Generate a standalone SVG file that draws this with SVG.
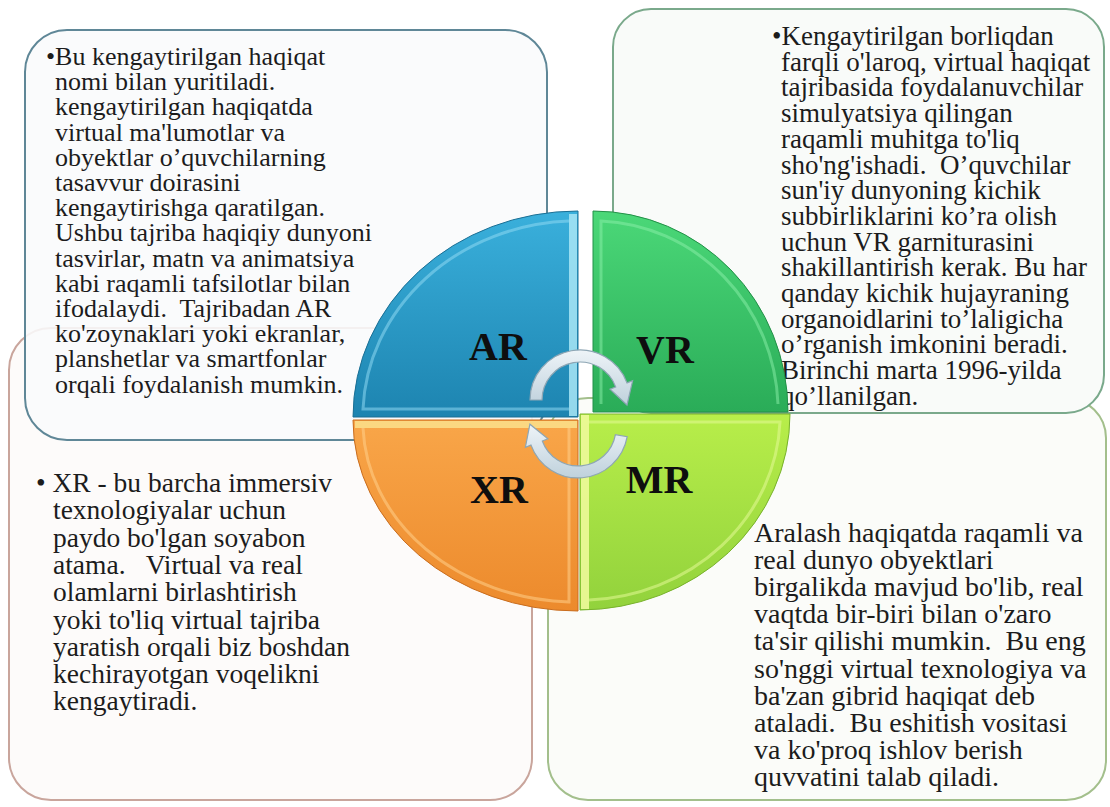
<svg xmlns="http://www.w3.org/2000/svg" width="1110" height="807" viewBox="0 0 1110 807">
<defs>
<style>
.box{stroke-width:2}
.t{font-family:"Liberation Serif","Times New Roman",serif;fill:#1c1c1c;white-space:pre}
.lab{font-family:"Liberation Serif","Times New Roman",serif;font-weight:bold;font-size:40px;fill:#0e0e0e;text-anchor:middle}
.bev{fill:none;stroke-width:3}
.arrow{fill:url(#gArrow);stroke:#8ea6b4;stroke-width:1.2}
</style>
<linearGradient id="gAR" x1="0" y1="0" x2="0" y2="1"><stop offset="0" stop-color="#3ab0dc"/><stop offset="1" stop-color="#1d84b0"/></linearGradient>
<linearGradient id="gVR" x1="0" y1="0" x2="0" y2="1"><stop offset="0" stop-color="#4bd878"/><stop offset="1" stop-color="#2aac58"/></linearGradient>
<linearGradient id="gXR" x1="0" y1="0" x2="0" y2="1"><stop offset="0" stop-color="#f9a649"/><stop offset="1" stop-color="#ec8a2c"/></linearGradient>
<linearGradient id="gMR" x1="0" y1="0" x2="0" y2="1"><stop offset="0" stop-color="#b8ee4a"/><stop offset="1" stop-color="#92d23c"/></linearGradient>
<linearGradient id="gArrow" x1="0" y1="0" x2="0" y2="1"><stop offset="0" stop-color="#eef4f8"/><stop offset="1" stop-color="#bfd1dc"/></linearGradient>
</defs>
<rect width="1110" height="807" fill="#ffffff"/>

<g id="node-xr-box">
<rect class="box" x="9" y="328" width="523" height="472" rx="42" fill="#fdfbfa" stroke="#c9a59c"/>
<text class="t" font-size="27.5"><tspan x="36" y="492">• XR - bu barcha immersiv</tspan><tspan x="53" y="519.3">texnologiyalar uchun</tspan><tspan x="53" y="546.6">paydo bo'lgan soyabon</tspan><tspan x="53" y="573.9">atama.   Virtual va real</tspan><tspan x="53" y="601.2">olamlarni birlashtirish</tspan><tspan x="53" y="628.5">yoki to'liq virtual tajriba</tspan><tspan x="53" y="655.8">yaratish orqali biz boshdan</tspan><tspan x="53" y="683.1">kechirayotgan voqelikni</tspan><tspan x="53" y="710.4">kengaytiradi.</tspan></text>
</g>

<g id="node-mr-box">
<rect class="box" x="548" y="398" width="558" height="402" rx="40" fill="#fbfcf9" stroke="#a3bf8c"/>
<text class="t" font-size="28"><tspan x="754" y="542">Aralash haqiqatda raqamli va</tspan><tspan x="754" y="569.1">real dunyo obyektlari</tspan><tspan x="754" y="596.2">birgalikda mavjud bo'lib, real</tspan><tspan x="754" y="623.3">vaqtda bir-biri bilan o'zaro</tspan><tspan x="754" y="650.4">ta'sir qilishi mumkin.  Bu eng</tspan><tspan x="754" y="677.5">so'nggi virtual texnologiya va</tspan><tspan x="754" y="704.6">ba'zan gibrid haqiqat deb</tspan><tspan x="754" y="731.7">ataladi.  Bu eshitish vositasi</tspan><tspan x="754" y="758.8">va ko'proq ishlov berish</tspan><tspan x="754" y="785.9">quvvatini talab qiladi.</tspan></text>
</g>

<g id="node-ar-box">
<rect class="box" x="25" y="30" width="522" height="410" rx="42" fill="#f9fbfc" fill-opacity="0.88" stroke="#5f8797"/>
<text class="t" font-size="26"><tspan x="46" y="65">•Bu kengaytirilgan haqiqat</tspan><tspan x="55" y="90.2">nomi bilan yuritiladi.</tspan><tspan x="55" y="115.4">kengaytirilgan haqiqatda</tspan><tspan x="55" y="140.6">virtual ma'lumotlar va</tspan><tspan x="55" y="165.8">obyektlar o’quvchilarning</tspan><tspan x="55" y="191">tasavvur doirasini</tspan><tspan x="55" y="216.2">kengaytirishga qaratilgan.</tspan><tspan x="55" y="241.4">Ushbu tajriba haqiqiy dunyoni</tspan><tspan x="55" y="266.6">tasvirlar, matn va animatsiya</tspan><tspan x="55" y="291.8">kabi raqamli tafsilotlar bilan</tspan><tspan x="55" y="317">ifodalaydi.  Tajribadan AR</tspan><tspan x="55" y="342.2">ko'zoynaklari yoki ekranlar,</tspan><tspan x="55" y="367.4">planshetlar va smartfonlar</tspan><tspan x="55" y="392.6">orqali foydalanish mumkin.</tspan></text>
</g>

<g id="node-vr-box">
<rect class="box" x="613" y="9" width="491" height="404" rx="38" fill="#f9fbf9" stroke="#7aa98b"/>
<text class="t" font-size="27"><tspan x="772" y="45">•Kengaytirilgan borliqdan</tspan><tspan x="781" y="70.7">farqli o'laroq, virtual haqiqat</tspan><tspan x="781" y="96.4">tajribasida foydalanuvchilar</tspan><tspan x="781" y="122.1">simulyatsiya qilingan</tspan><tspan x="781" y="147.8">raqamli muhitga to'liq</tspan><tspan x="781" y="173.5">sho'ng'ishadi.  O’quvchilar</tspan><tspan x="781" y="199.2">sun'iy dunyoning kichik</tspan><tspan x="781" y="224.9">subbirliklarini ko’ra olish</tspan><tspan x="781" y="250.6">uchun VR garniturasini</tspan><tspan x="781" y="276.3">shakillantirish kerak. Bu har</tspan><tspan x="781" y="302">qanday kichik hujayraning</tspan><tspan x="781" y="327.7">organoidlarini to’laligicha</tspan><tspan x="781" y="353.4">o’rganish imkonini beradi.</tspan><tspan x="781" y="379.1">Birinchi marta 1996-yilda</tspan><tspan x="781" y="404.8">qo’llanilgan.</tspan></text>
</g>

<g id="node-ar">
<path d="M578,417 H353 A225,206 0 0 1 578,211 Z" fill="url(#gAR)" stroke="#1b6f94" stroke-width="1"/>
<path class="bev" d="M569,409 H363 A215,196 0 0 1 569,221" stroke="#8ed8f2" stroke-opacity="0.55"/>
<rect x="569" y="214" width="8" height="202" fill="#a9e6f6" opacity="0.85"/>
<text class="lab" x="498" y="360">AR</text>
</g>

<g id="node-vr">
<path d="M593,412 V211 A195,201 0 0 1 788,412 Z" fill="url(#gVR)" stroke="#239048" stroke-width="1"/>
<path class="bev" d="M601,404 V221 A185,191 0 0 1 778,404" stroke="#8cf0aa" stroke-opacity="0.5"/>
<text class="lab" x="665" y="363">VR</text>
</g>

<g id="node-xr">
<path d="M578,420 V611 A225,191 0 0 1 353,420 Z" fill="url(#gXR)" stroke="#c96d1e" stroke-width="1"/>
<path class="bev" d="M569,428 V602 A215,181 0 0 1 363,428" stroke="#ffd08a" stroke-opacity="0.55"/>
<rect x="355" y="421" width="222" height="7" fill="#fbe08c" opacity="0.85"/>
<text class="lab" x="499" y="503">XR</text>
</g>

<g id="node-mr">
<path d="M580,414 H790 A210,196 0 0 1 580,610 Z" fill="url(#gMR)" stroke="#78b22c" stroke-width="1"/>
<path class="bev" d="M589,422 H780 A200,186 0 0 1 589,600" stroke="#e4fa96" stroke-opacity="0.55"/>
<rect x="581" y="415" width="8" height="194" fill="#eef99a" opacity="0.9"/>
<text class="lab" x="659" y="493">MR</text>
</g>

<g id="connectors">
<path class="arrow" d="M530,400 A50,50 0 0 1 627,382.9 L632.6,380.8 L627,405 L610.1,389.1 L615.7,387 A38,38 0 0 0 542,400 Z"/>
<path class="arrow" d="M627.2,436.7 A50,50 0 0 1 531,445.1 L525.4,447.2 L529.9,424.2 L547.9,438.9 L542.3,441 A38,38 0 0 0 615.4,434.6 Z"/>
</g>
</svg>
